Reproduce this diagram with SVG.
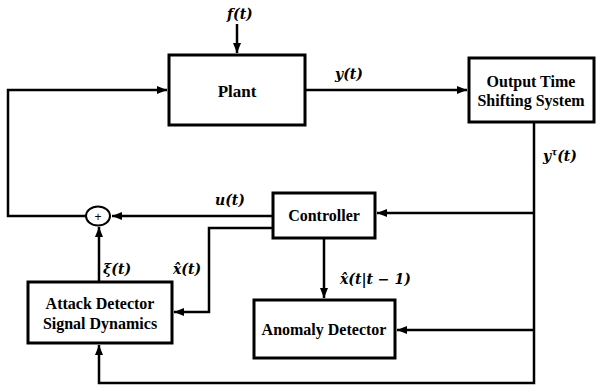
<svg xmlns="http://www.w3.org/2000/svg" width="597" height="388" viewBox="0 0 597 388">
<defs>
<marker id="ah" viewBox="0 0 10 10" refX="10" refY="5" markerWidth="10" markerHeight="10" markerUnits="userSpaceOnUse" orient="auto">
<path d="M0,1 L10,5 L0,9 Z" fill="#000"/>
</marker>
</defs>
<style>
.box{fill:#fff;stroke:#000;stroke-width:3}
.ln{fill:none;stroke:#000;stroke-width:2.5}
</style>
<rect width="597" height="388" fill="#fff"/>
<g id="connectors">
<path class="ln" d="M237,24 V53" marker-end="url(#ah)"/>
<path class="ln" d="M305,90 H467" marker-end="url(#ah)"/>
<path class="ln" d="M534,122 V383 H99 V345" marker-end="url(#ah)"/>
<path class="ln" d="M534,213 H377" marker-end="url(#ah)"/>
<path class="ln" d="M534,330 H397" marker-end="url(#ah)"/>
<path class="ln" d="M273,216 H112" marker-end="url(#ah)"/>
<path class="ln" d="M86,216 H8 V90 H167" marker-end="url(#ah)"/>
<path class="ln" d="M273,228 H209 V312 H174" marker-end="url(#ah)"/>
<path class="ln" d="M99,282 V227" marker-end="url(#ah)"/>
<path class="ln" d="M324,238 V298" marker-end="url(#ah)"/>
</g>
<g id="labels" font-family="'DejaVu Serif', 'Liberation Serif', serif" font-weight="bold" font-style="italic" font-size="14" fill="#000">
<text x="227" y="19">f(t)</text>
<text x="335" y="79">y(t)</text>
<text x="543" y="161">y<tspan font-size="9" dy="-6">τ</tspan><tspan dy="6">(t)</tspan></text>
<text x="215" y="205">u(t)</text>
<text x="103" y="274">ξ(t)</text>
<text x="173" y="274">x̂(t)</text>
<text x="340" y="284">x̂(t|t − 1)</text>
</g>
<g font-family="'Liberation Serif', 'Times New Roman', serif" font-weight="bold" font-size="16" text-anchor="middle" fill="#000">
<g id="plant">
<rect class="box" x="169" y="55" width="136" height="70"/>
<text x="237" y="97" font-size="17">Plant</text>
</g>
<g id="output-time-shifting">
<rect class="box" x="469" y="58" width="125" height="64"/>
<text x="531" y="87">Output Time</text>
<text x="531" y="106">Shifting System</text>
</g>
<g id="controller">
<rect class="box" x="273" y="193" width="102" height="45"/>
<text x="324" y="221">Controller</text>
</g>
<g id="attack-detector">
<rect class="box" x="28" y="282" width="144" height="61"/>
<text x="100" y="309">Attack Detector</text>
<text x="100" y="329">Signal Dynamics</text>
</g>
<g id="anomaly-detector">
<rect class="box" x="254" y="300" width="141" height="58"/>
<text x="324" y="335">Anomaly Detector</text>
</g>
</g>
<g id="sum">
<ellipse cx="98" cy="216" rx="12" ry="9.5" fill="#fff" stroke="#000" stroke-width="2"/>
<text x="98" y="220.5" font-family="'Liberation Sans', Arial, sans-serif" font-size="12" text-anchor="middle">+</text>
</g>
</svg>
